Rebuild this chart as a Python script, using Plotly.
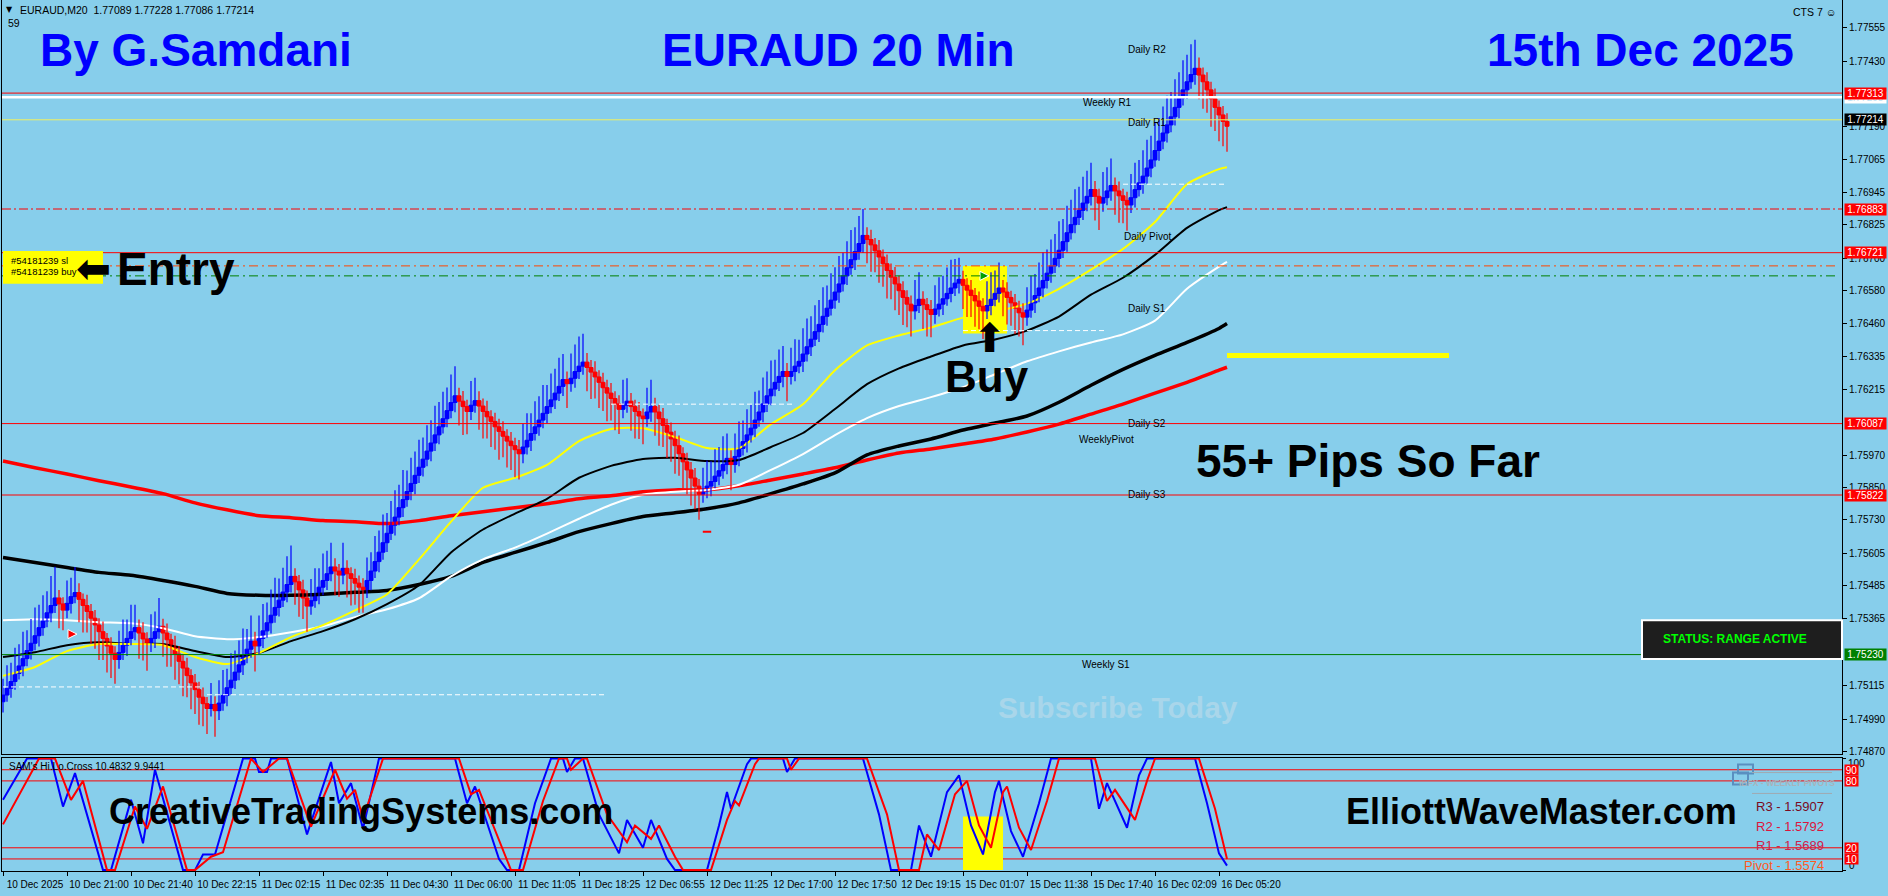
import plotly.graph_objects as go

# ---------------------------------------------------------------- geometry
W, H = 1888, 896
ML, MR = 2, 46
PW = W - ML - MR
MAIN_BOTTOM_PX = 757
SUB_TOP_PX, SUB_BOTTOM_PX = 761, 875
X_RANGE = [-0.25, 459.75]
PRICE_RANGE = [1.748626, 1.776584]
OSC_RANGE = [-0.9, 100.9]

FONT = "Liberation Sans, Arial, sans-serif"
BG = "#87CEEB"
BLUE, RED = "#0000FF", "#FF0000"

# ---------------------------------------------------------------- price bars
# prices are stored in points (0.00001) above 1.70000
BASE = 1.70000
POINT = 0.00001
first_open_pts = 5055
close_pts = [
    5080, 5105, 5130, 5160, 5188, 5215, 5245, 5272, 5300, 5330,
    5355, 5385, 5412, 5440, 5418, 5395, 5420, 5445, 5460, 5435,
    5412, 5390, 5365, 5340, 5315, 5290, 5262, 5235, 5212, 5238,
    5265, 5290, 5315, 5330, 5310, 5288, 5270, 5290, 5315, 5335,
    5310, 5285, 5260, 5232, 5205, 5180, 5152, 5125, 5100, 5072,
    5048, 5030, 5045, 5022, 5050, 5078, 5107, 5135, 5165, 5192,
    5222, 5250, 5280, 5262, 5290, 5318, 5348, 5376, 5405, 5432,
    5462, 5490, 5520, 5500, 5470, 5440, 5410, 5430, 5455, 5480,
    5505, 5530, 5555, 5540, 5525, 5550, 5530, 5512, 5495, 5480,
    5470, 5505, 5540, 5575, 5610, 5645, 5680, 5710, 5740, 5775,
    5805, 5835, 5865, 5895, 5925, 5955, 5985, 6015, 6045, 6075,
    6105, 6135, 6165, 6190, 6170, 6150, 6132, 6155, 6172, 6152,
    6132, 6112, 6095, 6075, 6058, 6040, 6022, 6005, 5990, 5975,
    6000, 6025, 6050, 6075, 6100, 6125, 6150, 6175, 6200, 6225,
    6250, 6235, 6255, 6280, 6300, 6315, 6295, 6278, 6260, 6240,
    6220, 6200, 6180, 6160, 6140, 6155, 6170, 6150, 6132, 6115,
    6105, 6130, 6150, 6130, 6105, 6080, 6055, 6030, 6005, 5975,
    5945, 5915, 5885, 5855, 5825, 5838, 5855, 5872, 5892, 5912,
    5935, 5958, 5935, 5965, 5995, 6020, 6045, 6070, 6100, 6130,
    6160, 6190, 6215, 6240, 6262, 6280, 6262, 6280, 6300, 6318,
    6345, 6372, 6400, 6428, 6455, 6485, 6515, 6545, 6575, 6605,
    6635, 6665, 6695, 6725, 6755, 6785, 6770, 6750, 6728, 6705,
    6680, 6655, 6630, 6605, 6580, 6555, 6530, 6505, 6525, 6548,
    6528, 6510, 6492, 6512, 6530, 6550, 6570, 6590, 6608, 6622,
    6600, 6582, 6562, 6542, 6522, 6505, 6525, 6548, 6570, 6590,
    6575, 6555, 6535, 6515, 6498, 6482, 6508, 6535, 6562, 6590,
    6618, 6645, 6672, 6700, 6730, 6762, 6795, 6825, 6852, 6878,
    6905, 6930, 6955, 6930, 6905, 6925, 6950, 6970, 6950, 6932,
    6915, 6898, 6925, 6955, 6980, 7005, 7035, 7065, 7100, 7135,
    7165, 7195, 7225, 7260, 7295, 7325, 7355, 7382, 7405, 7380,
    7355, 7325, 7292, 7260, 7232, 7208, 7190,
]
# upper / lower shadow lengths in points
wick_up_pts = [
    60, 85, 70, 95, 80, 100, 75, 90, 105, 85, 95, 80, 110, 116,
    30, 25,
    85, 70, 95,
    35, 22, 40, 28, 30, 25, 38, 20, 32, 26,
    80, 95, 70, 100, 85,
    30, 40, 25,
    90, 75, 105,
    28, 35, 22, 40, 30, 26, 38, 24, 33, 29, 36, 25,
    80,
    30,
    85, 95, 70, 100, 80, 90, 105, 75, 95,
    35,
    85, 100, 75, 95, 110, 80, 90, 105, 115,
    30, 25, 38, 28,
    80, 95, 70, 100, 85, 90,
    32, 26,
    95,
    30, 24, 36, 28, 33,
    85, 70, 95, 80, 105, 75, 90, 100, 85, 110, 78, 95, 88, 102, 80, 96, 84, 108, 92, 100, 86, 104, 110,
    30, 38, 25,
    90, 85,
    35, 28, 40, 24, 32, 30, 38, 26, 34, 29, 36,
    85, 100, 75, 95, 88, 105, 80, 98, 90, 106, 95,
    30,
    92, 100, 110, 105,
    34, 28, 40, 25, 36, 30, 38, 27, 32,
    95, 85,
    30, 25, 35, 28,
    90, 100,
    33, 27, 40, 25, 36, 30, 38, 24, 34, 29, 37, 26,
    85, 95, 75, 100, 88, 105, 92,
    30,
    85, 100, 78, 95, 88, 105, 80, 98, 90, 106, 84, 100, 95,
    32,
    88, 100, 80, 96, 105, 85, 98, 90, 108, 84, 100, 92, 104, 86, 98, 110, 90, 102, 98,
    30, 36, 25, 40, 28, 34, 26, 38, 30, 35, 27, 32,
    95, 100,
    30, 25, 35,
    88, 100, 85, 96, 105, 90, 80,
    32, 26, 38, 28, 35, 30,
    90, 100, 85, 95,
    30, 36, 25, 33, 28, 35,
    85, 100, 80, 95, 105, 88, 98, 90, 108, 84, 100, 92, 104, 88, 98, 95, 100,
    32, 28,
    95, 88, 100,
    30, 35, 26, 32,
    88, 100, 85, 96, 105, 90, 102, 86, 98, 108, 92, 104, 95, 110, 100, 112, 106,
    40, 28, 35, 30, 38, 26, 33, 30,
]
wick_dn_pts = [
    40, 25, 35, 30, 22, 38, 28, 33, 26, 40, 30, 24, 35, 28,
    90, 75,
    30, 38, 25,
    85, 100, 78, 95, 88, 105, 80, 98, 92, 90,
    35, 28, 40, 25, 32,
    95, 80, 100,
    30, 36, 26,
    88, 100, 75, 95, 85, 105, 80, 98, 90, 102, 84, 95,
    30,
    97,
    35, 28, 40, 25, 33, 30, 38, 24, 32,
    95,
    30, 36, 26, 40, 28, 34, 25, 38, 30,
    85, 100, 78, 95,
    32, 26, 38, 30, 35, 28,
    90, 80,
    34,
    88, 100, 80, 95, 85,
    30, 36, 26, 40, 28, 34, 25, 38, 30, 35, 27, 32, 40, 28, 34, 26, 38, 30, 35, 25, 32, 28, 36,
    90, 105, 85,
    32, 28,
    88, 100, 80, 95, 85, 105, 78, 98, 90, 102, 95,
    35, 28, 40, 26, 33, 30, 38, 25, 34, 29, 36,
    90,
    30, 35, 28, 32,
    88, 100, 80, 95, 86, 104, 82, 98, 92,
    33, 28,
    90, 100, 85, 95,
    30, 36,
    88, 100, 80, 96, 85, 104, 82, 98, 90, 102, 86, 95,
    32, 28, 38, 25, 34, 30, 36,
    95,
    30, 36, 26, 40, 28, 34, 25, 38, 30, 35, 27, 32, 40,
    92,
    30, 36, 26, 40, 28, 34, 25, 38, 30, 35, 27, 32, 40, 28, 34, 26, 38, 30, 35,
    88, 100, 80, 96, 85, 104, 82, 98, 90, 102, 86, 95,
    32, 28,
    90, 100, 85,
    35, 28, 40, 26, 33, 30, 38,
    88, 100, 80, 96, 85, 104,
    30, 36, 26, 34,
    90, 100, 85, 96, 88, 104,
    32, 28, 38, 25, 34, 30, 36, 26, 33, 29, 38, 25, 32, 28, 36, 30, 34,
    90, 100,
    32, 28, 36,
    88, 100, 85, 96,
    30, 36, 26, 40, 28, 34, 25, 38, 30, 35, 27, 32, 40, 28, 34, 26, 38,
    90, 100, 85, 104, 88, 98, 92, 95,
]

# time axis: one label every 16 bars
tick_bars = list(range(0, 305, 16))
time_labels = [
    "10 Dec 2025", "10 Dec 21:00", "10 Dec 21:40", "10 Dec 22:15", "11 Dec 02:15",
    "11 Dec 02:35", "11 Dec 04:30", "11 Dec 06:00", "11 Dec 11:05", "11 Dec 18:25",
    "12 Dec 06:55", "12 Dec 11:25", "12 Dec 17:00", "12 Dec 17:50", "12 Dec 19:15",
    "15 Dec 01:07", "15 Dec 11:38", "15 Dec 17:40", "16 Dec 02:09", "16 Dec 05:20",
]

price_ticks = [1.77555, 1.77430, 1.77190, 1.77065, 1.76945, 1.76825, 1.76700,
               1.76580, 1.76460, 1.76335, 1.76215, 1.75970, 1.75850, 1.75730,
               1.75605, 1.75485, 1.75365, 1.75115, 1.74990, 1.74870]

# ---------------------------------------------------------------- moving averages
ma_bars = list(range(0, 305, 8)) + [306]
ma_yellow = [1.75151, 1.75184, 1.75243, 1.75269, 1.75269, 1.75265, 1.75221, 1.75195, 1.75236, 1.75295,
             1.75339, 1.75394, 1.75454, 1.75583, 1.75723, 1.75849, 1.75886, 1.75934, 1.76022, 1.76067,
             1.76070, 1.76037, 1.75996, 1.75996, 1.76085, 1.76159, 1.76285, 1.76377, 1.76414, 1.76443,
             1.76480, 1.76502, 1.76532, 1.76587, 1.76658, 1.76735, 1.76835, 1.76975, 1.77031, 1.77038]
ma_black_fast = [1.75221, 1.75239, 1.75265, 1.75276, 1.75269, 1.75269, 1.75243, 1.75221, 1.75236, 1.75280,
                 1.75317, 1.75361, 1.75417, 1.75487, 1.75609, 1.75694, 1.75753, 1.75808, 1.75886, 1.75930,
                 1.75956, 1.75960, 1.75948, 1.75952, 1.76000, 1.76052, 1.76141, 1.76233, 1.76292, 1.76336,
                 1.76377, 1.76399, 1.76432, 1.76484, 1.76565, 1.76628, 1.76713, 1.76813, 1.76879, 1.76890]
ma_white = [1.75357, 1.75361, 1.75357, 1.75350, 1.75346, 1.75328, 1.75298, 1.75287, 1.75295, 1.75313,
            1.75335, 1.75369, 1.75398, 1.75439, 1.75520, 1.75583, 1.75627, 1.75679, 1.75734, 1.75786,
            1.75823, 1.75834, 1.75841, 1.75860, 1.75915, 1.75974, 1.76044, 1.76107, 1.76152, 1.76185,
            1.76222, 1.76270, 1.76318, 1.76355, 1.76388, 1.76418, 1.76469, 1.76587, 1.76669, 1.76687]
ma_black_slow = [1.75590, 1.75572, 1.75553, 1.75535, 1.75524, 1.75505, 1.75483, 1.75457, 1.75450, 1.75450,
                 1.75454, 1.75461, 1.75468, 1.75490, 1.75520, 1.75572, 1.75609, 1.75646, 1.75686, 1.75716,
                 1.75742, 1.75756, 1.75771, 1.75793, 1.75827, 1.75863, 1.75904, 1.75971, 1.76004, 1.76030,
                 1.76063, 1.76089, 1.76115, 1.76166, 1.76229, 1.76288, 1.76340, 1.76388, 1.76440, 1.76458]
ma_red_slow = [1.75948, 1.75923, 1.75900, 1.75875, 1.75852, 1.75827, 1.75793, 1.75767, 1.75745, 1.75738,
               1.75727, 1.75723, 1.75716, 1.75727, 1.75745, 1.75760, 1.75775, 1.75790, 1.75808, 1.75819,
               1.75834, 1.75841, 1.75841, 1.75856, 1.75878, 1.75900, 1.75923, 1.75952, 1.75978, 1.75993,
               1.76011, 1.76030, 1.76056, 1.76085, 1.76122, 1.76159, 1.76200, 1.76240, 1.76285, 1.76296]

# ---------------------------------------------------------------- oscillator (0..100)
osc_blue_bars = [0, 6, 12, 15, 18, 25, 27, 32, 35, 38, 45, 48, 50, 53, 60, 63, 64, 66, 67, 71,
                 76, 82, 84, 87, 90, 94, 113, 116, 118, 124, 126, 129, 133, 137, 140, 141, 143, 145,
                 149, 154, 156, 160, 162, 166, 168, 176, 179, 181, 182, 186, 187, 195, 196, 198, 215,
                 219, 222, 227, 229, 232, 236, 239, 242, 245, 248, 249, 252, 255, 259, 262, 272, 274,
                 276, 278, 281, 284, 286, 298, 301, 304, 306]
osc_blue = [63, 100, 100, 57, 87, 0, 0, 63, 24, 90, 0, 0, 14, 14, 100, 100, 88, 88, 100, 100,
            32, 97, 60, 78, 37, 100, 100, 60, 75, 10, 0, 0, 60, 100, 100, 88, 100, 100,
            50, 15, 45, 20, 45, 10, 0, 0, 40, 70, 55, 95, 100, 100, 88, 100, 100,
            50, 0, 0, 40, 12, 70, 85, 40, 14, 70, 80, 35, 12, 60, 100, 100, 55,
            78, 62, 38, 85, 100, 100, 60, 15, 4]
osc_red_bars = [0, 9, 13, 17, 20, 26, 28, 33, 36, 40, 46, 48, 52, 55, 62, 65, 69, 71, 77, 83,
                86, 88, 90, 95, 114, 117, 119, 125, 127, 130, 135, 139, 141, 142, 145, 146, 151,
                156, 158, 162, 164, 168, 170, 177, 181, 183, 184, 188, 189, 196, 197, 199, 216,
                221, 224, 229, 231, 234, 238, 241, 244, 247, 250, 251, 254, 257, 261, 264, 273,
                276, 278, 283, 286, 288, 299, 303, 306]
osc_red = [41, 100, 100, 63, 80, 0, 0, 57, 37, 75, 0, 0, 12, 16, 100, 88, 100, 100, 39, 90,
           64, 72, 46, 100, 100, 68, 72, 18, 0, 0, 62, 100, 100, 90, 100, 100, 50,
           25, 40, 28, 40, 12, 0, 0, 45, 62, 58, 95, 100, 100, 90, 100, 100,
           50, 0, 0, 32, 18, 68, 80, 40, 20, 70, 75, 38, 18, 62, 100, 100,
           62, 72, 45, 80, 100, 100, 55, 10]
osc_levels = [90, 80, 20, 10]

# ---------------------------------------------------------------- horizontal levels
level_prices = [1.77298, 1.77313, 1.77214, 1.76883, 1.76721, 1.76087, 1.75822, 1.75230]
level_colors = ["#FFFFFF", "#FF0000", "#F0F060", "#FF0000", "#FF0000", "#FF0000", "#FF0000", "#008000"]
level_widths = [2.5, 1, 1, 1, 1, 1, 1, 1]
level_dashes = ["solid", "solid", "solid", "9px,3px,2px,3px", "solid", "solid", "solid", "solid"]
level_tag_bg = ["#FFFFFF", "#FF0000", "#000000", "#FF0000", "#FF0000", "#FF0000", "#FF0000", "#008000"]
level_tag_fg = ["#BFE3F5", "#FFFFFF", "#FFFFFF", "#FFFFFF", "#FFFFFF", "#FFFFFF", "#FFFFFF", "#FFFFFF"]

order_prices = [1.76672, 1.76635]
order_colors = ["#FF4500", "#008000"]
order_names = ["#54181239 sl", "#54181239 buy"]

seg_prices = [1.76975, 1.76432, 1.76159, 1.75110, 1.75081]
seg_from = [280, 240, 152, 0, 51]
seg_to = [306, 276, 198, 50, 151]

target_price, target_from, target_to = 1.76340, 306, 361.5
buy_zone = dict(x0=240, x1=251, y0=1.76421, y1=1.76672)
buy_zone_osc = dict(x0=240, x1=250, y0=0, y1=48)

pivot_names = ["Daily R2", "Weekly R1", "Daily R1", "Daily Pivot", "Daily S1",
               "Daily S2", "WeeklyPivot", "Daily S3", "Weekly S1"]
weekly_pivots = [("R3 - 1.5907", "#7A0A1E"), ("R2 - 1.5792", "#DC143C"),
                 ("R1 - 1.5689", "#D0204A"), ("Pivot - 1.5574", "#FF5A1F")]

trade_mark_bars = [18.5, 246.5]
trade_mark_prices = [1.75306, 1.76635]
trade_mark_colors = ["#FF0000", "#00A000"]

# ---------------------------------------------------------------- helpers
def px(x):
    return (x - ML) / PW


def py(y):
    return (H - y) / H


def price(pts):
    return round(BASE + pts * POINT, 5)


assert len(close_pts) == len(wick_up_pts) == len(wick_dn_pts)

opens = [first_open_pts] + close_pts[:-1]
groups = {True: dict(x=[], base=[], h=[], wx=[], wy=[]),
          False: dict(x=[], base=[], h=[], wx=[], wy=[])}
for i, (o, c, wu, wd) in enumerate(zip(opens, close_pts, wick_up_pts, wick_dn_pts)):
    g = groups[c > o]
    lo_b, hi_b = min(o, c), max(o, c)
    g["x"].append(i)
    g["base"].append(price(lo_b))
    g["h"].append(round((hi_b - lo_b) * POINT, 5))
    g["wx"] += [i, i, None]
    g["wy"] += [price(lo_b - wd), price(hi_b + wu), None]

fig = go.Figure()

# moving averages (drawn under the bars)
for vals, color, width in [(ma_red_slow, "#FF0000", 3.5), (ma_black_slow, "#000000", 3.5),
                           (ma_white, "#FFFFFF", 2), (ma_black_fast, "#000000", 2),
                           (ma_yellow, "#FFFF00", 2)]:
    fig.add_trace(go.Scatter(x=ma_bars, y=vals, mode="lines", xaxis="x", yaxis="y",
                             line=dict(color=color, width=width, shape="spline", smoothing=0.6),
                             hoverinfo="skip"))

# bars: shadows then bodies
for is_up, color in [(True, BLUE), (False, RED)]:
    g = groups[is_up]
    fig.add_trace(go.Scatter(x=g["wx"], y=g["wy"], mode="lines", xaxis="x", yaxis="y",
                             line=dict(color=color, width=1.2), hoverinfo="skip"))
for is_up, color in [(True, BLUE), (False, RED)]:
    g = groups[is_up]
    fig.add_trace(go.Bar(x=g["x"], y=g["h"], base=g["base"], width=1.0, xaxis="x", yaxis="y",
                         marker=dict(color=color, line=dict(width=1, color=color)), hoverinfo="skip"))

# trade markers
fig.add_trace(go.Scatter(x=trade_mark_bars, y=trade_mark_prices, mode="markers", xaxis="x", yaxis="y",
                         marker=dict(symbol="arrow-right", size=9, color=trade_mark_colors,
                                     line=dict(color="white", width=1)), hoverinfo="skip"))
fig.add_trace(go.Scatter(x=[176], y=[1.75686], mode="markers", xaxis="x", yaxis="y",
                         marker=dict(symbol="line-ew", size=6, line=dict(color=RED, width=2)),
                         hoverinfo="skip"))

# oscillator
fig.add_trace(go.Scatter(x=osc_blue_bars, y=osc_blue, mode="lines", xaxis="x2", yaxis="y2",
                         line=dict(color=BLUE, width=2), hoverinfo="skip"))
fig.add_trace(go.Scatter(x=osc_red_bars, y=osc_red, mode="lines", xaxis="x2", yaxis="y2",
                         line=dict(color=RED, width=2), hoverinfo="skip"))

# ---------------------------------------------------------------- shapes
shapes = []
shapes.append(dict(type="rect", xref="x", yref="y", **buy_zone, fillcolor="#FFFF00",
                   line=dict(width=0), layer="below"))
shapes.append(dict(type="rect", xref="x2", yref="y2", **buy_zone_osc, fillcolor="#FFFF00",
                   line=dict(width=0), layer="below"))
for lv in osc_levels:
    shapes.append(dict(type="line", xref="paper", yref="y2", x0=0, x1=1, y0=lv, y1=lv,
                       line=dict(color=RED, width=1), layer="below"))
for p, c, w, d in zip(level_prices, level_colors, level_widths, level_dashes):
    shapes.append(dict(type="line", xref="paper", yref="y", x0=0, x1=1, y0=p, y1=p,
                       line=dict(color=c, width=w, dash=d), layer="above"))
for p, c in zip(order_prices, order_colors):
    shapes.append(dict(type="line", xref="paper", yref="y", x0=0, x1=px(1835), y0=p, y1=p,
                       line=dict(color=c, width=1, dash="9px,4px,2px,4px"), layer="above"))
for p, a, b in zip(seg_prices, seg_from, seg_to):
    shapes.append(dict(type="line", xref="x", yref="y", x0=a, x1=b, y0=p, y1=p,
                       line=dict(color="#FFFFFF", width=1, dash="5px,3px"), layer="above"))
shapes.append(dict(type="line", xref="x", yref="y", x0=target_from, x1=target_to,
                   y0=target_price, y1=target_price, line=dict(color="#FFFF00", width=5), layer="above"))
# order label box
shapes.append(dict(type="rect", xref="paper", yref="paper", x0=px(3), x1=px(103), y0=py(285), y1=py(252),
                   fillcolor="#FFFF00", line=dict(width=0), layer="above"))
# status panel
shapes.append(dict(type="rect", xref="paper", yref="paper", x0=px(1642), x1=px(1842), y0=py(662), y1=py(623),
                   fillcolor="#1E1E1E", line=dict(color="#FFFFFF", width=2), layer="above"))
# weekly pivot panel decorations
shapes.append(dict(type="rect", xref="paper", yref="paper", x0=px(1738), x1=px(1753), y0=py(777), y1=py(768),
                   line=dict(color="#5A8FC0", width=2), layer="above"))
shapes.append(dict(type="rect", xref="paper", yref="paper", x0=px(1733), x1=px(1748), y0=py(788), y1=py(776),
                   line=dict(color="#5A8FC0", width=2), layer="above"))
for yy in (776, 797):
    shapes.append(dict(type="line", xref="paper", yref="paper", x0=px(1752), x1=px(1832), y0=py(yy), y1=py(yy),
                       line=dict(color="#A0AAB2", width=1), layer="above"))

# ---------------------------------------------------------------- annotations
anns = []


def label(text, x, y, size, color="black", bold=False, anchor="center", family=FONT):
    anns.append(dict(text=text, xref="paper", yref="paper", x=px(x), y=py(y), xanchor=anchor,
                     yanchor="middle", showarrow=False,
                     font=dict(family=family, size=size, color=color,
                               weight="bold" if bold else "normal")))


label("▼", 9, 10, 8, family="DejaVu Sans")
label("EURAUD,M20  1.77089 1.77228 1.77086 1.77214", 18, 10, 10.5, anchor="left")
label("59", 6, 23, 10.5, anchor="left")
label("CTS 7 ☺", 1838, 12, 10.5, anchor="right")

label("By G.Samdani", 196, 50, 46, BLUE, True)
label("EURAUD 20 Min", 838, 50, 46, BLUE, True)
label("15th Dec 2025", 1640, 50, 46, BLUE, True)

pivot_pos = [(1147, 50), (1107, 103), (1147, 123), (1147, 238), (1147, 310),
             (1147, 425), (1106, 441), (1147, 497), (1106, 667)]
for name, (x, y) in zip(pivot_names, pivot_pos):
    label(name, x, y, 10)

label(order_names[0], 9, 262, 9.5, anchor="left")
label(order_names[1], 9, 273, 9.5, anchor="left")
label("⬅", 93, 270, 42, family="DejaVu Sans")
label("Entry", 176, 270, 46, bold=True)
label("⬆", 990, 340, 40, family="DejaVu Sans")
label("Buy", 987, 378, 44, bold=True)
label("55+ Pips So Far", 1368, 463, 46, bold=True)
label("Subscribe Today", 1118, 711, 30, "#A9D6EA", True)
label("STATUS: RANGE ACTIVE", 1735, 642, 12, "#00FF00", True)

label("SAM's Hi.Lo.Cross 10.4832 9.9441", 7, 770, 10, anchor="left")
label("CreativeTradingSystems.com", 361, 815, 36, bold=True)
label("ElliottWaveMaster.com", 1541, 815, 36, bold=True)
label("IBFX - WEEKLY PIVOTS", 1787, 787, 8.5, "#A7B3BC", True)
for (txt, col), yy in zip(weekly_pivots, (810, 830, 849, 869)):
    label(txt, 1826, yy, 13, col, anchor="right")

label("100", 1846, 767, 10, anchor="left")
label("0", 1847, 869, 10, anchor="left")

# price tags on the right scale
for p, bg, fg in zip(level_prices, level_tag_bg, level_tag_fg):
    anns.append(dict(text=f"{p:.5f}", xref="paper", yref="y", x=1, y=p, xanchor="left", xshift=2,
                     yanchor="middle", width=41, height=11, bgcolor=bg, borderpad=0, showarrow=False,
                     font=dict(family=FONT, size=10, color=fg)))
for lv in osc_levels:
    anns.append(dict(text=str(lv), xref="paper", yref="y2", x=1, y=lv, xanchor="left", xshift=2,
                     yanchor="middle", width=13, height=10, bgcolor="#FF0000", borderpad=0, showarrow=False,
                     font=dict(family=FONT, size=10, color="#FFFFFF")))

# ---------------------------------------------------------------- layout
axis_common = dict(showgrid=False, zeroline=False, showline=True, linecolor="black", linewidth=1)
fig.update_layout(
    width=W, height=H,
    margin=dict(l=ML, r=MR, t=0, b=0, pad=0),
    paper_bgcolor=BG, plot_bgcolor=BG,
    showlegend=False, barmode="overlay",
    xaxis=dict(domain=[0, 1], range=X_RANGE, anchor="y", showticklabels=False, ticks="",
               **axis_common),
    yaxis=dict(domain=[1 - MAIN_BOTTOM_PX / H, 1], range=PRICE_RANGE, anchor="x", side="right",
               tickvals=price_ticks, tickformat=".5f", ticks="outside", ticklen=4, tickcolor="black",
               tickfont=dict(family=FONT, size=10, color="black"), mirror=True, **axis_common),
    xaxis2=dict(domain=[0, 1], range=X_RANGE, matches="x", anchor="y2", tickvals=tick_bars,
                ticktext=time_labels, ticks="outside", ticklen=4, tickcolor="black",
                tickfont=dict(family=FONT, size=10, color="black"), ticklabelshift=32,
                mirror=True, **axis_common),
    yaxis2=dict(domain=[1 - SUB_BOTTOM_PX / H, 1 - SUB_TOP_PX / H], range=OSC_RANGE, anchor="x2",
                side="right", tickvals=[0, 100], showticklabels=False, ticks="outside", ticklen=3,
                tickcolor="black", mirror=True, **axis_common),
    shapes=shapes,
    annotations=anns,
)

fig.write_html("out.html", config={"displayModeBar": False})
